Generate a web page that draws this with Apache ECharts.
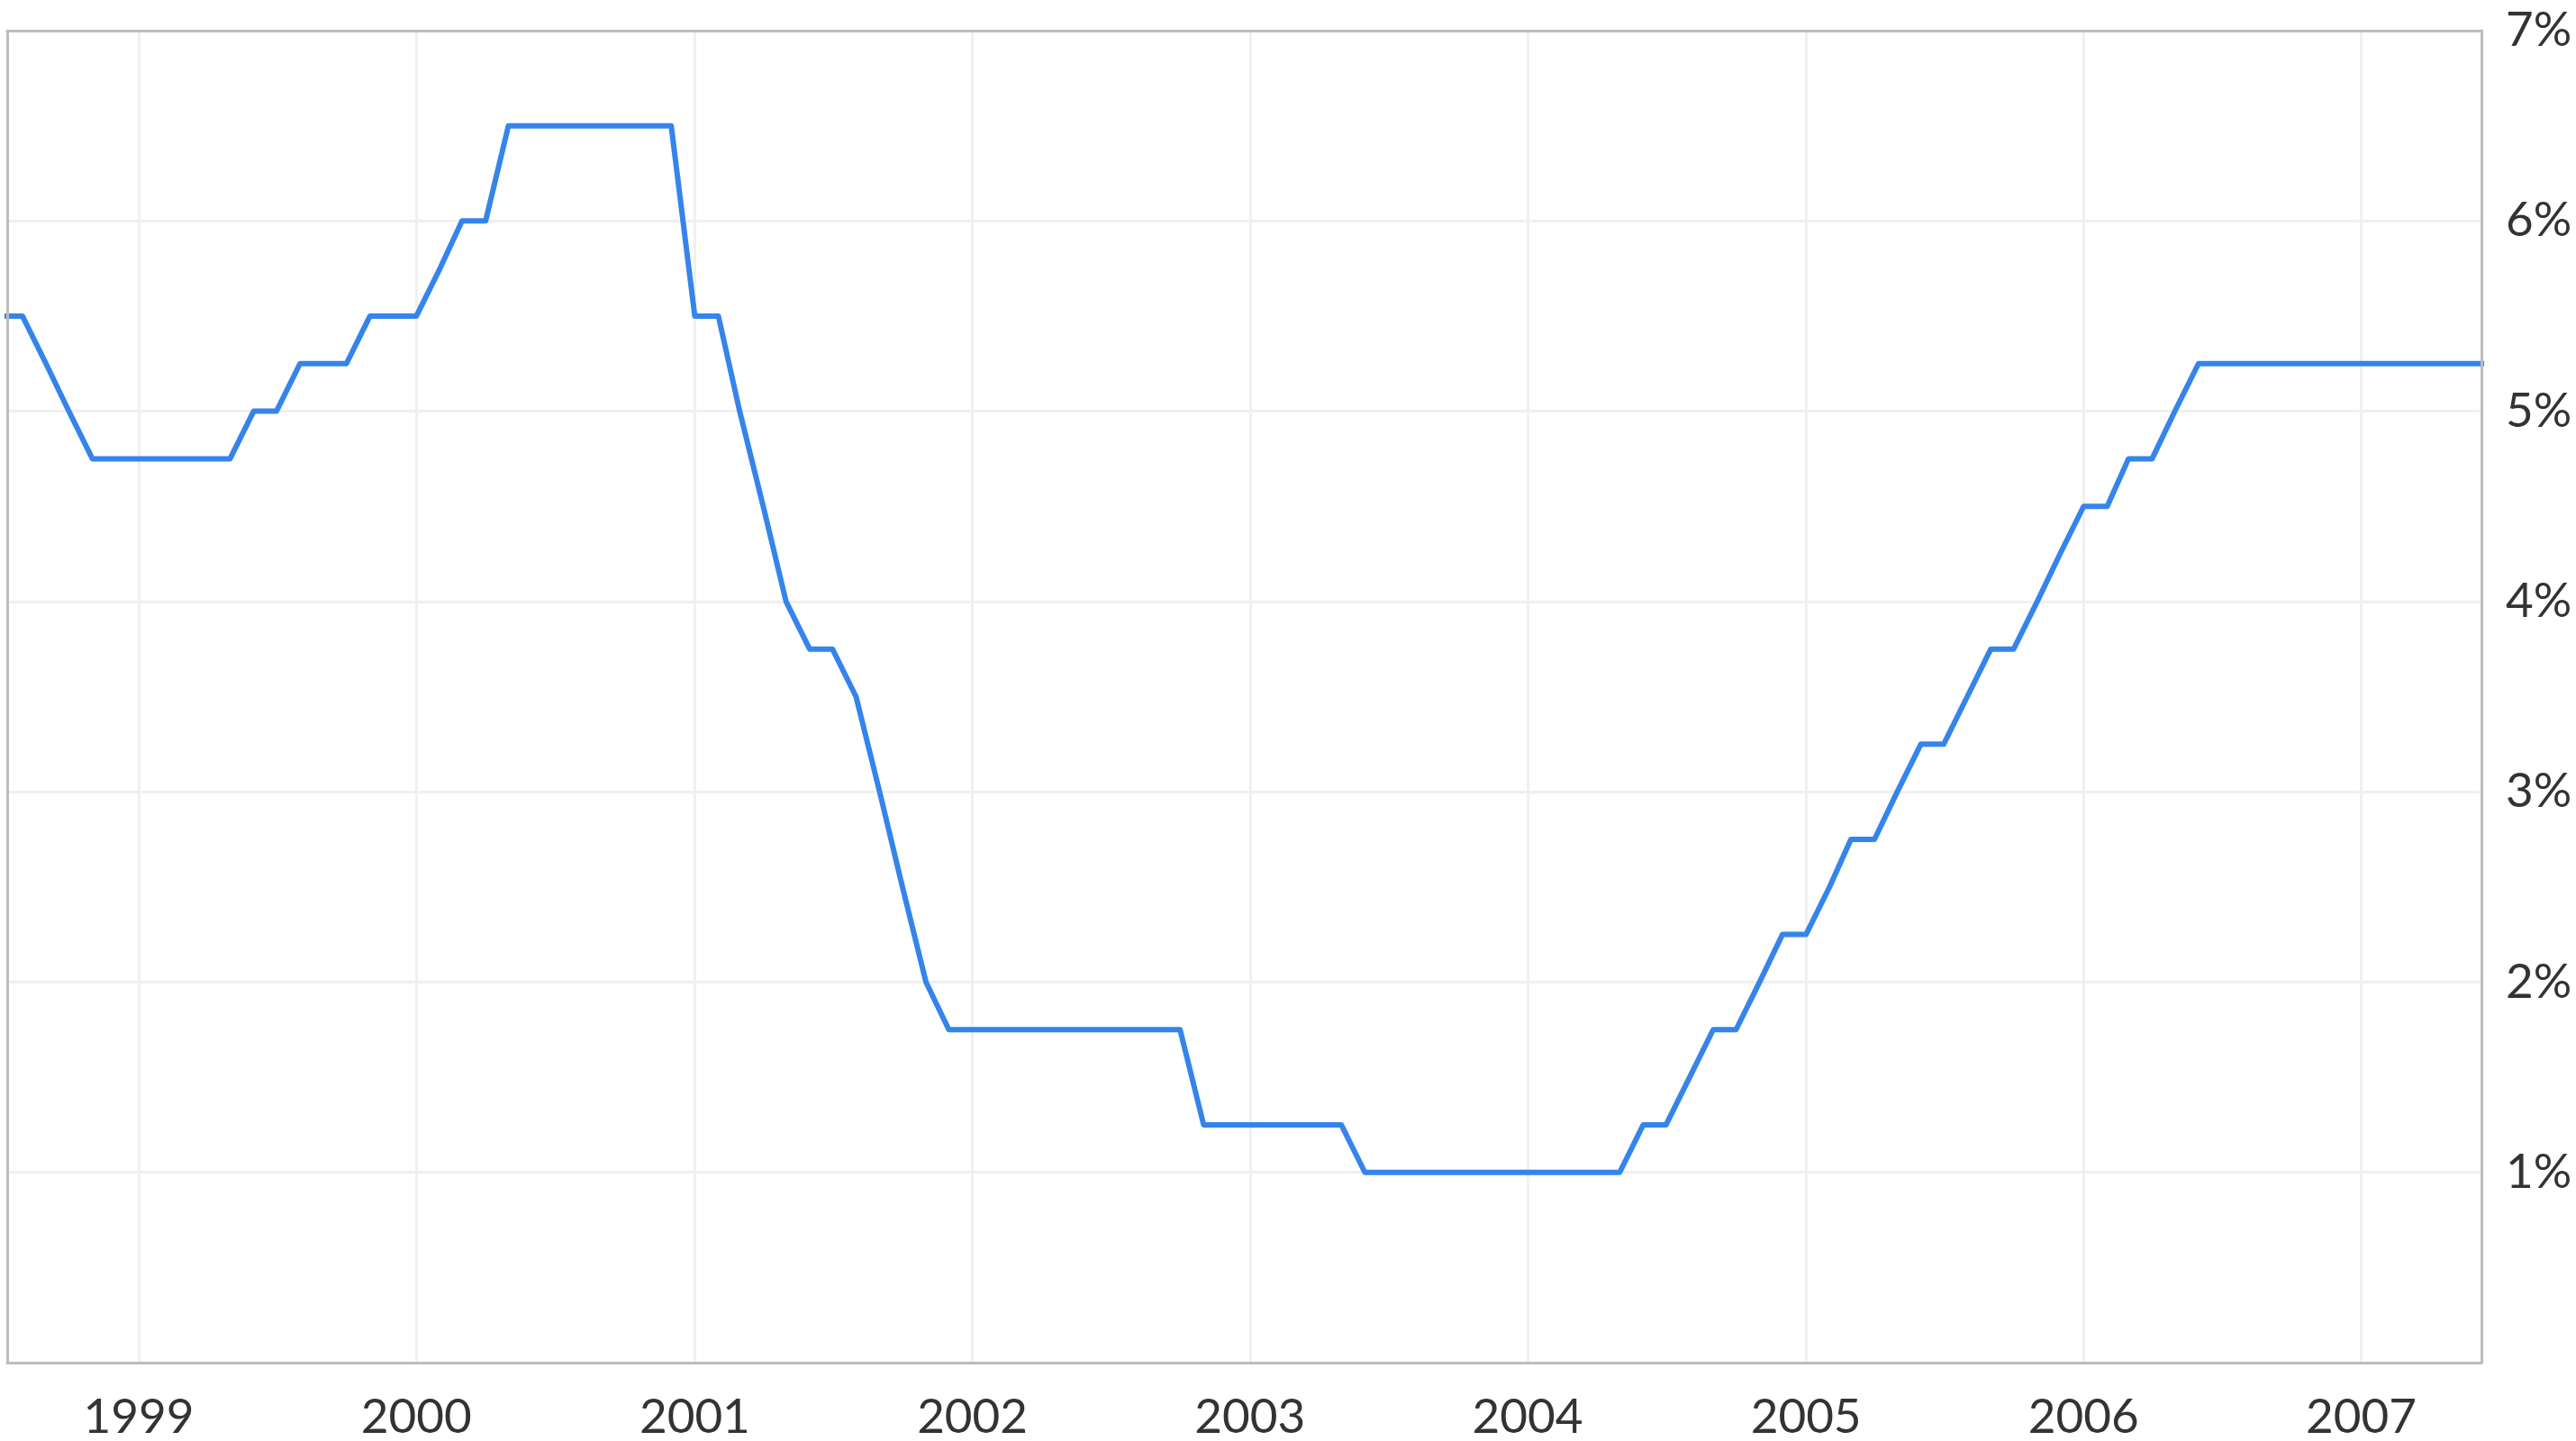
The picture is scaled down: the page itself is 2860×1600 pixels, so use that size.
<!DOCTYPE html>
<html>
<head>
<meta charset="utf-8">
<script src="https://cdn.jsdelivr.net/npm/echarts@6/dist/echarts.min.js"></script>
<style>
  html, body { margin: 0; padding: 0; background: #ffffff; }
  #chart { width: 2860px; height: 1600px; }
</style>
</head>
<body>
<div id="chart"></div>
<script>
// Monthly series starts July 1998 (one value per month, plotted at month start)
const startYear = 1998;
const startMonth = 7;
const rates = [
  // 1998 Jul-Dec
  5.5, 5.5, 5.25, 5.0, 4.75, 4.75,
  // 1999
  4.75, 4.75, 4.75, 4.75, 4.75, 5.0, 5.0, 5.25, 5.25, 5.25, 5.5, 5.5,
  // 2000
  5.5, 5.75, 6.0, 6.0, 6.5, 6.5, 6.5, 6.5, 6.5, 6.5, 6.5, 6.5,
  // 2001
  5.5, 5.5, 5.0, 4.5, 4.0, 3.75, 3.75, 3.5, 3.0, 2.5, 2.0, 1.75,
  // 2002
  1.75, 1.75, 1.75, 1.75, 1.75, 1.75, 1.75, 1.75, 1.75, 1.75, 1.25, 1.25,
  // 2003
  1.25, 1.25, 1.25, 1.25, 1.25, 1.0, 1.0, 1.0, 1.0, 1.0, 1.0, 1.0,
  // 2004
  1.0, 1.0, 1.0, 1.0, 1.0, 1.25, 1.25, 1.5, 1.75, 1.75, 2.0, 2.25,
  // 2005
  2.25, 2.5, 2.75, 2.75, 3.0, 3.25, 3.25, 3.5, 3.75, 3.75, 4.0, 4.25,
  // 2006
  4.5, 4.5, 4.75, 4.75, 5.0, 5.25, 5.25, 5.25, 5.25, 5.25, 5.25, 5.25,
  // 2007 Jan-Jul
  5.25, 5.25, 5.25, 5.25, 5.25, 5.25, 5.25
];
const xMin = '1998-07-12';
const xMax = '2007-06-08';
const yTicks = [0, 1, 2, 3, 4, 5, 6, 7];

function monthDate(i) {
  const m0 = startMonth - 1 + i;
  const y = startYear + Math.floor(m0 / 12);
  const m = (m0 % 12) + 1;
  return y + '-' + (m < 10 ? '0' + m : m) + '-01';
}
const seriesData = rates.map((v, i) => [monthDate(i), v]);

const chart = echarts.init(document.getElementById('chart'), null, { renderer: 'canvas' });
const FONT = 'Lato';
const YEAR = 365 * 24 * 3600 * 1000;
const borderLine = { show: true, onZero: false, lineStyle: { color: '#bdbdbd', width: 3 } };
chart.setOption({
  animation: false,
  backgroundColor: '#ffffff',
  grid: {
    left: 8, right: 105, top: 34, bottom: 86,
    show: false
  },
  xAxis: [{
    type: 'time',
    min: xMin,
    max: xMax,
    minInterval: YEAR,
    maxInterval: YEAR + 2 * 24 * 3600 * 1000,
    axisLine: borderLine,
    axisTick: { show: false },
    splitLine: { show: true, lineStyle: { color: '#f0f0f0', width: 3 } },
    axisLabel: {
      formatter: '{yyyy}',
      fontFamily: FONT, fontSize: 53, color: '#333333', margin: 34,
      showMinLabel: false, showMaxLabel: false,
      hideOverlap: false
    },
    z: 1
  }, {
    type: 'time',
    position: 'top',
    min: xMin,
    max: xMax,
    axisLine: borderLine,
    axisTick: { show: false },
    axisLabel: { show: false },
    splitLine: { show: false },
    z: 6
  }],
  yAxis: [{
    type: 'value',
    position: 'right',
    min: yTicks[0],
    max: yTicks[yTicks.length - 1],
    interval: 1,
    axisLine: { show: false },
    axisTick: { show: false },
    splitLine: { show: true, lineStyle: { color: '#f0f0f0', width: 3 } },
    axisLabel: {
      formatter: v => (v === 0 ? '' : v + '%'),
      fontFamily: FONT, fontSize: 53, color: '#333333', margin: 27, align: 'left'
    },
    z: 0
  }, {
    type: 'value',
    position: 'left',
    min: yTicks[0],
    max: yTicks[yTicks.length - 1],
    interval: 1,
    axisLine: borderLine,
    axisTick: { show: false },
    axisLabel: { show: false },
    splitLine: { show: false },
    z: 6
  }, {
    type: 'value',
    position: 'right',
    min: yTicks[0],
    max: yTicks[yTicks.length - 1],
    interval: 1,
    axisLine: borderLine,
    axisTick: { show: false },
    axisLabel: { show: false },
    splitLine: { show: false },
    z: 6
  }],
  series: [{
    type: 'line',
    data: seriesData,
    xAxisIndex: 0,
    yAxisIndex: 0,
    showSymbol: false,
    symbol: 'none',
    clip: true,
    lineStyle: { color: '#3584ec', width: 6, join: 'round' },
    z: 3
  }]
});
</script>
</body>
</html>
